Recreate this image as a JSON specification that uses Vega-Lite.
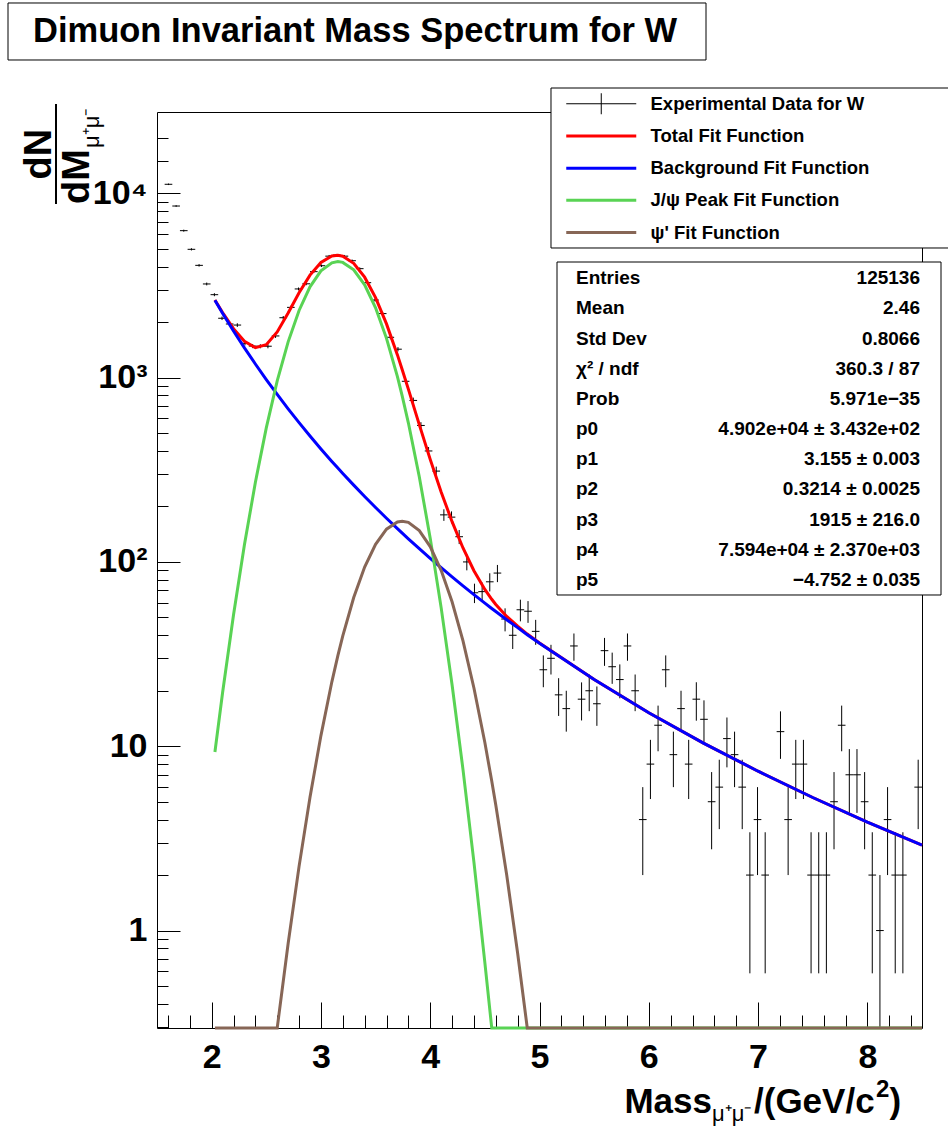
{
  "$schema": "https://vega.github.io/schema/vega-lite/v6.json",
  "width": 765,
  "height": 916,
  "autosize": {"type": "none"},
  "padding": {"left": 157, "top": 112, "right": 26, "bottom": 98},
  "background": "white",
  "config": {"font": "Liberation Sans", "view": {"stroke": "black", "strokeWidth": 1}},
  "datasets": {
    "hist": [
      {"m":1.605,"a":1.57,"b":1.64,"n":11190,"lo":11084,"hi":11296},
      {"m":1.675,"a":1.64,"b":1.71,"n":8530,"lo":8438,"hi":8622},
      {"m":1.745,"a":1.71,"b":1.78,"n":6270,"lo":6191,"hi":6349},
      {"m":1.815,"a":1.78,"b":1.85,"n":4966,"lo":4896,"hi":5036},
      {"m":1.885,"a":1.85,"b":1.92,"n":4065,"lo":4001,"hi":4129},
      {"m":1.955,"a":1.92,"b":1.99,"n":3222,"lo":3165,"hi":3279},
      {"m":2.025,"a":1.99,"b":2.06,"n":2818,"lo":2765,"hi":2871},
      {"m":2.095,"a":2.06,"b":2.13,"n":2099,"lo":2053,"hi":2145},
      {"m":2.165,"a":2.13,"b":2.2,"n":1954,"lo":1910,"hi":1998},
      {"m":2.235,"a":2.2,"b":2.27,"n":1928,"lo":1884,"hi":1972},
      {"m":2.305,"a":2.27,"b":2.34,"n":1535,"lo":1496,"hi":1574},
      {"m":2.375,"a":2.34,"b":2.41,"n":1483,"lo":1445,"hi":1522},
      {"m":2.445,"a":2.41,"b":2.48,"n":1480,"lo":1442,"hi":1518},
      {"m":2.515,"a":2.48,"b":2.55,"n":1480,"lo":1442,"hi":1518},
      {"m":2.585,"a":2.55,"b":2.62,"n":1683,"lo":1642,"hi":1724},
      {"m":2.655,"a":2.62,"b":2.69,"n":2113,"lo":2067,"hi":2159},
      {"m":2.725,"a":2.69,"b":2.76,"n":2405,"lo":2356,"hi":2454},
      {"m":2.795,"a":2.76,"b":2.83,"n":3027,"lo":2972,"hi":3082},
      {"m":2.865,"a":2.83,"b":2.9,"n":3228,"lo":3171,"hi":3285},
      {"m":2.935,"a":2.9,"b":2.97,"n":3757,"lo":3696,"hi":3818},
      {"m":3.005,"a":2.97,"b":3.04,"n":4045,"lo":3981,"hi":4109},
      {"m":3.075,"a":3.04,"b":3.11,"n":4560,"lo":4492,"hi":4628},
      {"m":3.145,"a":3.11,"b":3.18,"n":4620,"lo":4552,"hi":4688},
      {"m":3.215,"a":3.18,"b":3.25,"n":4560,"lo":4492,"hi":4628},
      {"m":3.285,"a":3.25,"b":3.32,"n":4307,"lo":4241,"hi":4373},
      {"m":3.355,"a":3.32,"b":3.39,"n":3900,"lo":3838,"hi":3962},
      {"m":3.425,"a":3.39,"b":3.46,"n":3274,"lo":3217,"hi":3331},
      {"m":3.495,"a":3.46,"b":3.53,"n":2636,"lo":2585,"hi":2687},
      {"m":3.565,"a":3.53,"b":3.6,"n":2225,"lo":2178,"hi":2272},
      {"m":3.635,"a":3.6,"b":3.67,"n":1655,"lo":1614,"hi":1696},
      {"m":3.705,"a":3.67,"b":3.74,"n":1426,"lo":1388,"hi":1464},
      {"m":3.775,"a":3.74,"b":3.81,"n":955,"lo":924,"hi":986},
      {"m":3.845,"a":3.81,"b":3.88,"n":752,"lo":725,"hi":779},
      {"m":3.915,"a":3.88,"b":3.95,"n":550,"lo":527,"hi":573},
      {"m":3.985,"a":3.95,"b":4.02,"n":400,"lo":380,"hi":420},
      {"m":4.055,"a":4.02,"b":4.09,"n":311,"lo":293,"hi":329},
      {"m":4.125,"a":4.09,"b":4.16,"n":180,"lo":167,"hi":193},
      {"m":4.195,"a":4.16,"b":4.23,"n":175,"lo":162,"hi":188},
      {"m":4.265,"a":4.23,"b":4.3,"n":137,"lo":125,"hi":149},
      {"m":4.335,"a":4.3,"b":4.37,"n":100,"lo":90,"hi":110},
      {"m":4.405,"a":4.37,"b":4.44,"n":68,"lo":59.8,"hi":76.2},
      {"m":4.475,"a":4.44,"b":4.51,"n":69,"lo":60.7,"hi":77.3},
      {"m":4.545,"a":4.51,"b":4.58,"n":78,"lo":69.2,"hi":86.8},
      {"m":4.615,"a":4.58,"b":4.65,"n":87,"lo":77.7,"hi":96.3},
      {"m":4.685,"a":4.65,"b":4.72,"n":49,"lo":42,"hi":56},
      {"m":4.755,"a":4.72,"b":4.79,"n":40,"lo":33.7,"hi":46.3},
      {"m":4.825,"a":4.79,"b":4.86,"n":55,"lo":47.6,"hi":62.4},
      {"m":4.895,"a":4.86,"b":4.93,"n":54,"lo":46.7,"hi":61.3},
      {"m":4.965,"a":4.93,"b":5.0,"n":42,"lo":35.5,"hi":48.5},
      {"m":5.035,"a":5.0,"b":5.07,"n":26,"lo":20.9,"hi":31.1},
      {"m":5.105,"a":5.07,"b":5.14,"n":30,"lo":24.5,"hi":35.5},
      {"m":5.175,"a":5.14,"b":5.21,"n":19,"lo":14.6,"hi":23.4},
      {"m":5.245,"a":5.21,"b":5.28,"n":16,"lo":12,"hi":20},
      {"m":5.315,"a":5.28,"b":5.35,"n":35,"lo":29.1,"hi":40.9},
      {"m":5.385,"a":5.35,"b":5.42,"n":18,"lo":13.8,"hi":22.2},
      {"m":5.455,"a":5.42,"b":5.49,"n":20,"lo":15.5,"hi":24.5},
      {"m":5.525,"a":5.49,"b":5.56,"n":17,"lo":12.9,"hi":21.1},
      {"m":5.595,"a":5.56,"b":5.63,"n":33,"lo":27.3,"hi":38.7},
      {"m":5.665,"a":5.63,"b":5.7,"n":27,"lo":21.8,"hi":32.2},
      {"m":5.735,"a":5.7,"b":5.77,"n":23,"lo":18.2,"hi":27.8},
      {"m":5.805,"a":5.77,"b":5.84,"n":35,"lo":29.1,"hi":40.9},
      {"m":5.875,"a":5.84,"b":5.91,"n":20,"lo":15.5,"hi":24.5},
      {"m":5.945,"a":5.91,"b":5.98,"n":4,"lo":2,"hi":6},
      {"m":6.015,"a":5.98,"b":6.05,"n":8,"lo":5.17,"hi":10.83},
      {"m":6.085,"a":6.05,"b":6.12,"n":13,"lo":9.39,"hi":16.61},
      {"m":6.155,"a":6.12,"b":6.19,"n":26,"lo":20.9,"hi":31.1},
      {"m":6.225,"a":6.19,"b":6.26,"n":9,"lo":6,"hi":12},
      {"m":6.295,"a":6.26,"b":6.33,"n":16,"lo":12,"hi":20},
      {"m":6.365,"a":6.33,"b":6.4,"n":8,"lo":5.17,"hi":10.83},
      {"m":6.435,"a":6.4,"b":6.47,"n":18,"lo":13.76,"hi":22.24},
      {"m":6.505,"a":6.47,"b":6.54,"n":14,"lo":10.26,"hi":17.74},
      {"m":6.575,"a":6.54,"b":6.61,"n":5,"lo":2.76,"hi":7.24},
      {"m":6.645,"a":6.61,"b":6.68,"n":6,"lo":3.55,"hi":8.45},
      {"m":6.715,"a":6.68,"b":6.75,"n":11,"lo":7.68,"hi":14.32},
      {"m":6.785,"a":6.75,"b":6.82,"n":9,"lo":6,"hi":12},
      {"m":6.855,"a":6.82,"b":6.89,"n":6,"lo":3.55,"hi":8.45},
      {"m":6.925,"a":6.89,"b":6.96,"n":2,"lo":0.586,"hi":3.414},
      {"m":6.995,"a":6.96,"b":7.03,"n":4,"lo":2,"hi":6},
      {"m":7.065,"a":7.03,"b":7.1,"n":2,"lo":0.586,"hi":3.414},
      {"m":7.205,"a":7.17,"b":7.24,"n":12,"lo":8.54,"hi":15.46},
      {"m":7.275,"a":7.24,"b":7.31,"n":4,"lo":2,"hi":6},
      {"m":7.345,"a":7.31,"b":7.38,"n":8,"lo":5.17,"hi":10.83},
      {"m":7.415,"a":7.38,"b":7.45,"n":8,"lo":5.17,"hi":10.83},
      {"m":7.485,"a":7.45,"b":7.52,"n":2,"lo":0.586,"hi":3.414},
      {"m":7.555,"a":7.52,"b":7.59,"n":2,"lo":0.586,"hi":3.414},
      {"m":7.625,"a":7.59,"b":7.66,"n":2,"lo":0.586,"hi":3.414},
      {"m":7.695,"a":7.66,"b":7.73,"n":5,"lo":2.76,"hi":7.24},
      {"m":7.765,"a":7.73,"b":7.8,"n":13,"lo":9.39,"hi":16.61},
      {"m":7.835,"a":7.8,"b":7.87,"n":7,"lo":4.35,"hi":9.65},
      {"m":7.905,"a":7.87,"b":7.94,"n":7,"lo":4.35,"hi":9.65},
      {"m":7.975,"a":7.94,"b":8.01,"n":5,"lo":2.76,"hi":7.24},
      {"m":8.045,"a":8.01,"b":8.08,"n":2,"lo":0.586,"hi":3.414},
      {"m":8.115,"a":8.08,"b":8.15,"n":1,"lo":0.296,"hi":2},
      {"m":8.185,"a":8.15,"b":8.22,"n":4,"lo":2,"hi":6},
      {"m":8.255,"a":8.22,"b":8.29,"n":2,"lo":0.586,"hi":3.414},
      {"m":8.325,"a":8.29,"b":8.36,"n":2,"lo":0.586,"hi":3.414},
      {"m":8.465,"a":8.43,"b":8.5,"n":6,"lo":3.55,"hi":8.45}
    ],
    "fit": [
      {"m":2.03,"total":2634,"bg":2625,"jpsi":9.3,"psi":0.296},
      {"m":2.1,"total":2255,"bg":2235,"jpsi":19.5,"psi":0.296},
      {"m":2.2,"total":1844,"bg":1792,"jpsi":51.5,"psi":0.296},
      {"m":2.3,"total":1574,"bg":1450,"jpsi":123.8,"psi":0.296},
      {"m":2.4,"total":1455,"bg":1185,"jpsi":269.9,"psi":0.296},
      {"m":2.5,"total":1510,"bg":976,"jpsi":533.9,"psi":0.296},
      {"m":2.6,"total":1769,"bg":810,"jpsi":958.9,"psi":0.296},
      {"m":2.7,"total":2242,"bg":677,"jpsi":1563.7,"psi":0.851},
      {"m":2.8,"total":2886,"bg":570,"jpsi":2314,"psi":2.23},
      {"m":2.9,"total":3597,"bg":482,"jpsi":3109,"psi":5.29},
      {"m":3.0,"total":4213,"bg":410,"jpsi":3792,"psi":11.42},
      {"m":3.1,"total":4571,"bg":351,"jpsi":4197,"psi":22.36},
      {"m":3.155,"total":4613,"bg":323,"jpsi":4259,"psi":31.0},
      {"m":3.2,"total":4560,"bg":302,"jpsi":4218,"psi":39.7},
      {"m":3.3,"total":4172,"bg":261,"jpsi":3847,"psi":64.1},
      {"m":3.4,"total":3506,"bg":226.4,"jpsi":3185,"psi":93.8},
      {"m":3.5,"total":2716,"bg":197.3,"jpsi":2394,"psi":124.7},
      {"m":3.6,"total":1956,"bg":172.6,"jpsi":1633,"psi":150.5},
      {"m":3.7,"total":1328,"bg":151.5,"jpsi":1011.5,"psi":164.8},
      {"m":3.744,"total":1104,"bg":143.2,"jpsi":794.5,"psi":166.4},
      {"m":3.8,"total":866,"bg":133.5,"jpsi":568.5,"psi":163.9},
      {"m":3.9,"total":556,"bg":118.0,"jpsi":290.1,"psi":147.9},
      {"m":4.0,"total":360,"bg":104.6,"jpsi":134.4,"psi":121.2},
      {"m":4.1,"total":239.6,"bg":93.0,"jpsi":56.5,"psi":90.1},
      {"m":4.2,"total":165.3,"bg":82.9,"jpsi":21.56,"psi":60.8},
      {"m":4.3,"total":119.0,"bg":74.2,"jpsi":7.47,"psi":37.3},
      {"m":4.4,"total":89.6,"bg":66.5,"jpsi":2.35,"psi":20.7},
      {"m":4.5,"total":70.9,"bg":59.8,"jpsi":0.67,"psi":10.47},
      {"m":4.563,"total":62.7,"bg":55.9,"jpsi":0.296,"psi":6.47},
      {"m":4.6,"total":58.8,"bg":53.8,"jpsi":0.296,"psi":4.8},
      {"m":4.7,"total":50.6,"bg":48.6,"jpsi":0.296,"psi":2.0},
      {"m":4.8,"total":44.8,"bg":44.0,"jpsi":0.296,"psi":0.753},
      {"m":4.888,"total":40.6,"bg":40.3,"jpsi":0.296,"psi":0.296},
      {"m":5.0,"total":36.3,"bg":36.2,"jpsi":0.296,"psi":0.296},
      {"m":5.5,"total":23.0,"bg":23.0,"jpsi":0.296,"psi":0.296},
      {"m":6.0,"total":15.2,"bg":15.2,"jpsi":0.296,"psi":0.296},
      {"m":6.5,"total":10.4,"bg":10.4,"jpsi":0.296,"psi":0.296},
      {"m":7.0,"total":7.32,"bg":7.32,"jpsi":0.296,"psi":0.296},
      {"m":7.5,"total":5.27,"bg":5.27,"jpsi":0.296,"psi":0.296},
      {"m":8.0,"total":3.88,"bg":3.88,"jpsi":0.296,"psi":0.296},
      {"m":8.5,"total":2.91,"bg":2.91,"jpsi":0.296,"psi":0.296}
    ],
    "stats": [
      {"i":0,"k":"Entries","v":"125136"},
      {"i":1,"k":"Mean","v":"2.46"},
      {"i":2,"k":"Std Dev","v":"0.8066"},
      {"i":3,"k":"χ² / ndf","v":"360.3 / 87"},
      {"i":4,"k":"Prob","v":"5.971e−35"},
      {"i":5,"k":"p0","v":"4.902e+04 ± 3.432e+02"},
      {"i":6,"k":"p1","v":"3.155 ± 0.003"},
      {"i":7,"k":"p2","v":"0.3214 ± 0.0025"},
      {"i":8,"k":"p3","v":"1915 ± 216.0"},
      {"i":9,"k":"p4","v":"7.594e+04 ± 2.370e+03"},
      {"i":10,"k":"p5","v":"−4.752 ± 0.035"}
    ]
  },
  "layer": [
    {
      "resolve": {"axis": {"x": "independent", "y": "independent"}},
      "layer": [
        {
          "data": {"name": "hist"},
          "mark": {"type": "rule"},
          "encoding": {
            "x": {"field": "m", "type": "quantitative", "scale": {"domain": [1.5, 8.5], "nice": false, "zero": false},
              "axis": {
                "orient": "bottom",
                "values": [2,3,4,5,6,7,8],
                "format": "d",
                "tickSize": -26,
                "tickColor": "black", "tickWidth": 1, "domain": false, "grid": false,
                "labelFont": "Liberation Sans", "labelFontWeight": "bold", "labelFontSize": 34, "labelColor": "black",
                "labelPadding": 38, "labelOverlap": false, "labelFlush": false, "title": null
              }},
            "y": {"field": "lo", "type": "quantitative", "scale": {"type": "log", "domain": [0.296, 27610], "nice": false},
              "axis": {
                "orient": "left",
                "values": [1,10,100,1000,10000],
                "labelExpr": "datum.value === 1 ? '1' : datum.value === 10 ? '10' : datum.value === 100 ? '10²' : datum.value === 1000 ? '10³' : '10⁴'",
                "tickSize": -23,
                "tickColor": "black", "tickWidth": 1, "domain": false, "grid": false,
                "labelFont": "Liberation Sans", "labelFontWeight": "bold", "labelFontSize": 34, "labelColor": "black",
                "labelPadding": 33, "labelOverlap": false, "labelFlush": false, "title": null
              }},
            "y2": {"field": "hi"},
            "color": {"datum": "Experimental Data for W", "type": "nominal",
              "scale": {"domain": ["Experimental Data for W", "Total Fit Function", "Background Fit Function", "\u00a0J/ψ Peak Fit Function", "ψ' Fit Function"],
                        "range": ["#000000", "#ff0000", "#0000ff", "#59d354", "#876656"]},
              "legend": {
                "orient": "none", "legendX": 435, "legendY": -17.5, "direction": "vertical",
                "title": null, "padding": 0, "offset": 0,
                "symbolSize": 4900,
                "symbolType": {"expr": "datum.value === 'Experimental Data for W' ? 'M-1,0H1M0,-0.3V0.3' : 'M-1,0H1'"},
                "symbolStrokeWidth": {"expr": "datum.value === 'Experimental Data for W' ? 1 : 3"},
                "symbolOffset": 0, "gridAlign": "all", "rowPadding": 10.2,
                "labelFont": "Liberation Sans", "labelFontWeight": "bold", "labelFontSize": 18.5, "labelColor": "black",
                "labelOffset": 40, "labelLimit": 500
              }}
          }
        },
        {
          "data": {"name": "hist"},
          "mark": {"type": "rule"},
          "encoding": {
            "x": {"field": "a", "type": "quantitative",
              "axis": {
                "orient": "bottom",
                "values": [1.6,1.8,2.2,2.4,2.6,2.8,3.2,3.4,3.6,3.8,4.2,4.4,4.6,4.8,5.2,5.4,5.6,5.8,6.2,6.4,6.6,6.8,7.2,7.4,7.6,7.8,8.2,8.4],
                "tickSize": -13, "tickColor": "black", "tickWidth": 1, "domain": false, "grid": false,
                "labels": false, "title": null
              }},
            "x2": {"field": "b"},
            "y": {"field": "n", "type": "quantitative",
              "axis": {
                "orient": "left",
                "values": [0.3,0.4,0.5,0.6,0.7,0.8,0.9,2,3,4,5,6,7,8,9,20,30,40,50,60,70,80,90,200,300,400,500,600,700,800,900,2000,3000,4000,5000,6000,7000,8000,9000,15000,20000],
                "tickSize": -11, "tickColor": "black", "tickWidth": 1, "domain": false, "grid": false,
                "labels": false, "title": null
              }},
            "color": {"datum": "Experimental Data for W", "type": "nominal"}
          }
        },
        {
          "data": {"name": "fit"},
          "mark": {"type": "line"},
          "encoding": {
            "x": {"field": "m", "type": "quantitative", "axis": null},
            "y": {"field": "total", "type": "quantitative", "axis": null},
            "strokeWidth": {"value": 3},
            "color": {"datum": "Total Fit Function", "type": "nominal"}
          }
        },
        {
          "data": {"name": "fit"},
          "mark": {"type": "line"},
          "encoding": {
            "x": {"field": "m", "type": "quantitative", "axis": null},
            "y": {"field": "bg", "type": "quantitative", "axis": null},
            "strokeWidth": {"value": 3},
            "color": {"datum": "Background Fit Function", "type": "nominal"}
          }
        },
        {
          "data": {"name": "fit"},
          "mark": {"type": "line"},
          "encoding": {
            "x": {"field": "m", "type": "quantitative", "axis": null},
            "y": {"field": "jpsi", "type": "quantitative", "axis": null},
            "strokeWidth": {"value": 3},
            "color": {"datum": "\u00a0J/ψ Peak Fit Function", "type": "nominal"}
          }
        },
        {
          "data": {"name": "fit"},
          "mark": {"type": "line"},
          "encoding": {
            "x": {"field": "m", "type": "quantitative", "axis": null},
            "y": {"field": "psi", "type": "quantitative", "axis": null},
            "strokeWidth": {"value": 3},
            "color": {"datum": "ψ' Fit Function", "type": "nominal"}
          }
        }
      ]
    },
    {
      "data": {"values": [{}]},
      "layer": [
        {
          "mark": {"type": "rect", "fill": "white", "stroke": "black", "strokeWidth": 1},
          "encoding": {
            "x": {"datum": -0.19477, "type": "quantitative", "scale": {"domain": [0, 1], "nice": false, "zero": false}, "axis": null},
            "x2": {"datum": 0.71765},
            "y": {"datum": 1.119, "type": "quantitative", "scale": {"domain": [0, 1], "nice": false, "zero": false}, "axis": null},
            "y2": {"datum": 1.05677}
          }
        },
        {
          "mark": {"type": "text", "text": "Dimuon Invariant Mass Spectrum for W", "align": "left", "baseline": "alphabetic", "font": "Liberation Sans", "fontWeight": "bold", "fontSize": 34.5, "color": "black"},
          "encoding": {"x": {"datum": -0.16209, "type": "quantitative"}, "y": {"datum": 1.07642, "type": "quantitative"}}
        },
        {
          "mark": {"type": "text", "text": "dN", "angle": 270, "align": "left", "baseline": "alphabetic", "font": "Liberation Sans", "fontWeight": "bold", "fontSize": 38, "color": "black"},
          "encoding": {"x": {"datum": -0.13856, "type": "quantitative"}, "y": {"datum": 0.92631, "type": "quantitative"}}
        },
        {
          "mark": {"type": "rule", "color": "black", "strokeWidth": 2},
          "encoding": {"x": {"datum": -0.13203, "type": "quantitative"}, "y": {"datum": 1.00873, "type": "quantitative"}, "y2": {"datum": 0.89956}}
        },
        {
          "mark": {"type": "text", "text": "dM", "angle": 270, "align": "left", "baseline": "alphabetic", "font": "Liberation Sans", "fontWeight": "bold", "fontSize": 38, "color": "black"},
          "encoding": {"x": {"datum": -0.08889, "type": "quantitative"}, "y": {"datum": 0.89956, "type": "quantitative"}}
        },
        {
          "mark": {"type": "text", "text": "μ⁺μ⁻", "angle": 270, "align": "left", "baseline": "alphabetic", "font": "Liberation Sans", "fontSize": 22, "color": "black"},
          "encoding": {"x": {"datum": -0.07582, "type": "quantitative"}, "y": {"datum": 0.9607, "type": "quantitative"}}
        },
        {
          "mark": {"type": "text", "text": "Mass", "align": "right", "baseline": "alphabetic", "font": "Liberation Sans", "fontWeight": "bold", "fontSize": 35, "color": "black"},
          "encoding": {"x": {"datum": 0.72549, "type": "quantitative"}, "y": {"datum": -0.09279, "type": "quantitative"}}
        },
        {
          "mark": {"type": "text", "text": "μ⁺μ⁻", "align": "left", "baseline": "alphabetic", "font": "Liberation Sans", "fontSize": 22, "color": "black"},
          "encoding": {"x": {"datum": 0.72549, "type": "quantitative"}, "y": {"datum": -0.10153, "type": "quantitative"}}
        },
        {
          "mark": {"type": "text", "text": "/(GeV/c", "align": "left", "baseline": "alphabetic", "font": "Liberation Sans", "fontWeight": "bold", "fontSize": 35, "color": "black"},
          "encoding": {"x": {"datum": 0.78039, "type": "quantitative"}, "y": {"datum": -0.09279, "type": "quantitative"}}
        },
        {
          "mark": {"type": "text", "text": "2", "align": "left", "baseline": "alphabetic", "font": "Liberation Sans", "fontWeight": "bold", "fontSize": 24, "color": "black"},
          "encoding": {"x": {"datum": 0.93987, "type": "quantitative"}, "y": {"datum": -0.07533, "type": "quantitative"}}
        },
        {
          "mark": {"type": "text", "text": ")", "align": "left", "baseline": "alphabetic", "font": "Liberation Sans", "fontWeight": "bold", "fontSize": 35, "color": "black"},
          "encoding": {"x": {"datum": 0.95752, "type": "quantitative"}, "y": {"datum": -0.09279, "type": "quantitative"}}
        },
        {
          "mark": {"type": "rect", "fill": "white", "stroke": "black", "strokeWidth": 1},
          "encoding": {"x": {"datum": 0.51503, "type": "quantitative"}, "x2": {"datum": 1.04967}, "y": {"datum": 1.0262, "type": "quantitative"}, "y2": {"datum": 0.85153}}
        },
        {
          "mark": {"type": "rect", "fill": "white", "stroke": "black", "strokeWidth": 1},
          "encoding": {"x": {"datum": 0.52288, "type": "quantitative"}, "x2": {"datum": 1.02484}, "y": {"datum": 0.83624, "type": "quantitative"}, "y2": {"datum": 0.47271}}
        }
      ]
    },
    {
      "data": {"name": "stats"},
      "layer": [
        {
          "mark": {"type": "text", "align": "left", "baseline": "middle", "font": "Liberation Sans", "fontWeight": "bold", "fontSize": 19, "color": "black"},
          "encoding": {
            "x": {"datum": 0.54771, "type": "quantitative", "scale": {"domain": [0, 1], "nice": false, "zero": false}, "axis": null},
            "y": {"field": "i", "type": "quantitative", "scale": {"domain": [-5.512, 24.85], "reverse": true, "nice": false, "zero": false}, "axis": null},
            "text": {"field": "k"}
          }
        },
        {
          "mark": {"type": "text", "align": "right", "baseline": "middle", "font": "Liberation Sans", "fontWeight": "bold", "fontSize": 19, "color": "black"},
          "encoding": {
            "x": {"datum": 0.99739, "type": "quantitative"},
            "y": {"field": "i", "type": "quantitative"},
            "text": {"field": "v"}
          }
        }
      ]
    }
  ],
  "resolve": {"scale": {"x": "independent", "y": "independent"}}
}
